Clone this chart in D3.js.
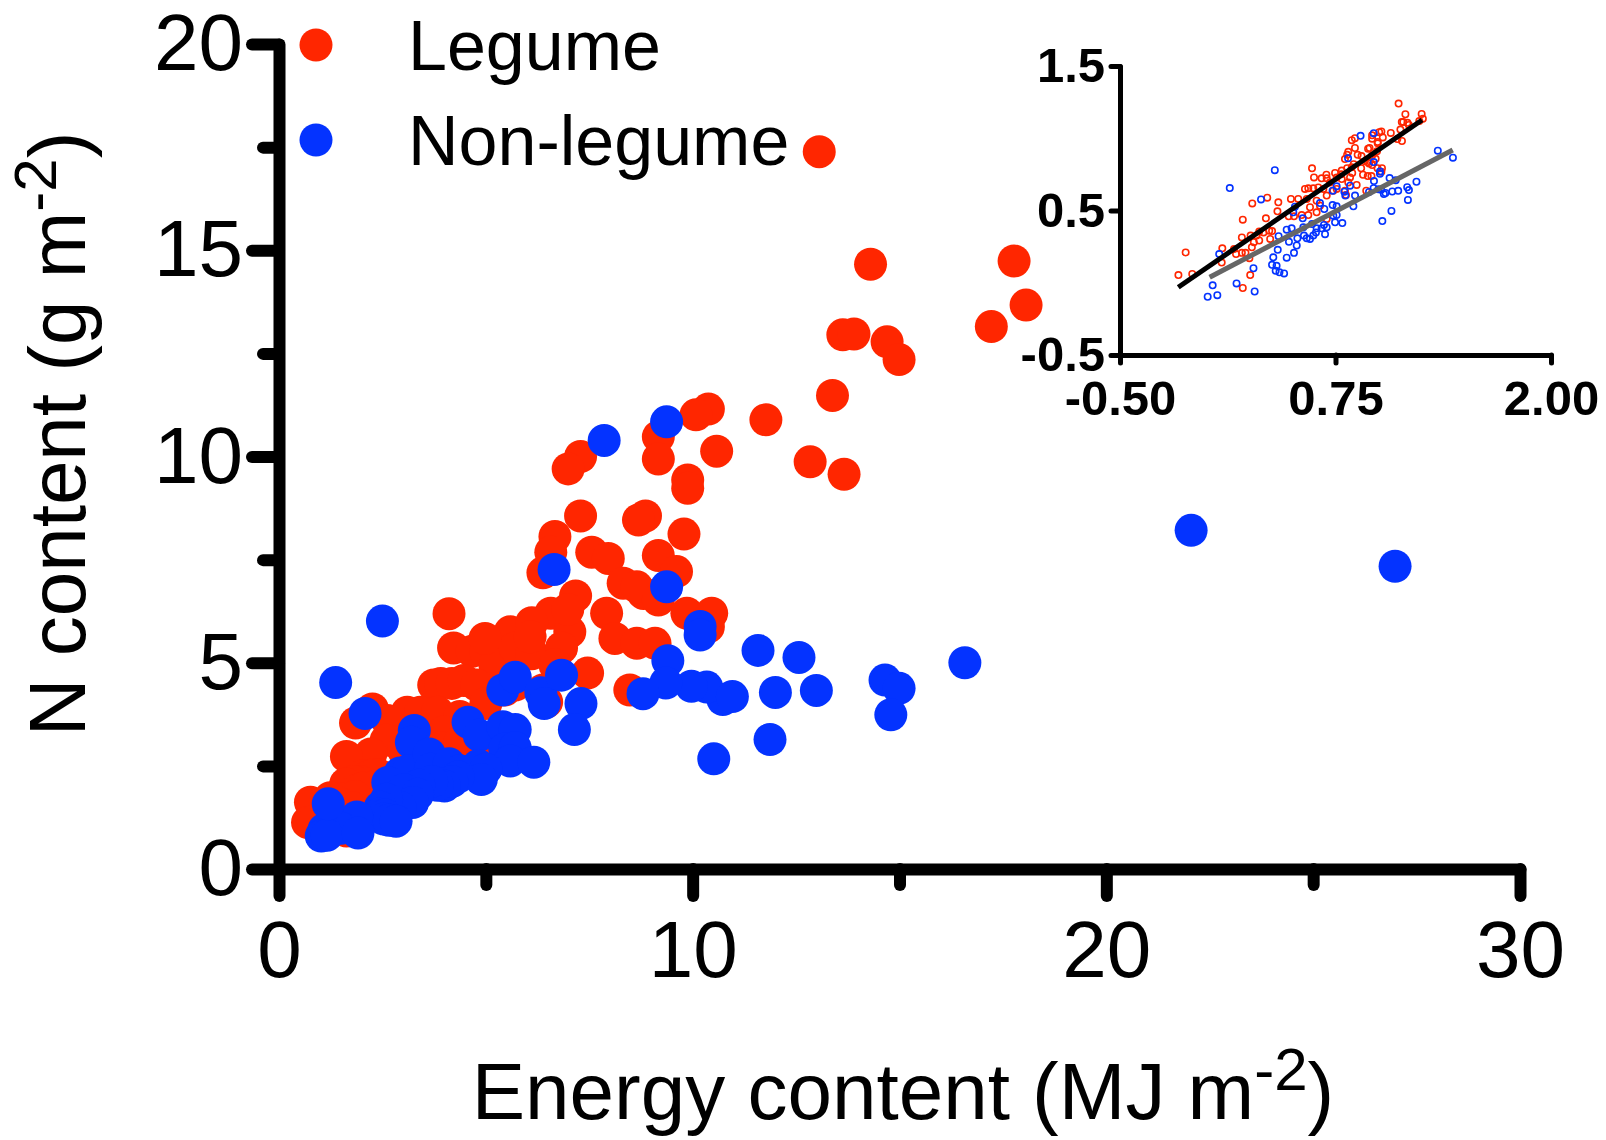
<!DOCTYPE html>
<html>
<head>
<meta charset="utf-8">
<script src="https://cdn.jsdelivr.net/npm/d3@7"></script>
<style>
  body { margin: 0; background: #fff; }
  text { font-family: "Liberation Sans", Arial, sans-serif; }
</style>
</head>
<body>
<div id="chart"></div>
<script>
// [energy content (MJ m-2), N content (g m-2)]
const legume = [
  [13.06,17.39],[14.30,14.66],[17.77,14.74],[18.06,13.67],[17.22,13.15],[13.63,12.95],[13.90,12.97],
  [14.70,12.78],[14.99,12.35],[13.38,11.48],[11.77,10.89],[10.38,11.15],[10.08,11.01],[9.17,10.48],
  [9.17,9.94],[10.58,10.13],[9.88,9.43],[9.88,9.23],[7.29,10.00],[6.99,9.70],[7.29,8.56],[8.86,8.56],
  [8.69,8.46],[9.79,8.12],[6.67,8.06],[6.57,7.68],[7.56,7.68],[7.96,7.53],[9.17,7.60],[9.61,7.21],
  [8.32,6.93],[8.81,6.68],[8.65,6.84],[9.17,6.52],[7.17,6.62],[6.57,6.20],[7.03,5.75],[7.92,6.20],
  [8.12,5.59],[8.65,5.47],[9.09,5.47],[9.86,6.20],[10.46,6.20],[10.38,5.87],[12.84,9.87],[13.66,9.57],
  [8.48,4.34],[7.46,4.75],
  [4.22,5.36],[4.67,5.28],[5.00,5.28],[5.22,4.95],[5.59,5.75],[5.71,5.36],[6.11,5.22],[6.83,5.36],
  [6.67,4.95],[6.38,7.18],[6.11,5.97],[6.98,6.29],[4.11,6.19],[4.98,5.59],[6.07,5.63],
  [3.74,4.46],[3.91,4.50],[4.18,4.50],[4.47,4.57],[4.78,4.46],[5.00,4.01],[5.46,4.34],[5.71,4.46],
  [6.38,4.34],[6.47,4.05],
  [3.10,3.80],[3.42,3.80],[3.83,3.80],[4.37,3.70],[4.57,3.41],[4.00,3.33],[3.91,2.94],[4.37,3.07],[5.00,2.76],
  [2.26,3.88],[2.62,3.60],[2.59,3.12],[2.22,2.79],[1.85,3.54],[1.63,2.73],[3.01,2.88],[3.23,2.88],[3.58,2.94],
  [2.03,2.26],[2.15,2.23],[2.32,2.29],[2.41,2.28],[1.96,2.12],[1.81,2.12],[1.61,2.06],[1.89,1.91],
  [2.03,1.96],[2.35,2.01],[1.45,1.71],[1.61,1.61],[1.69,1.61],[1.84,1.76],[1.49,1.58],
  [1.24,1.73],[0.76,1.62],[0.69,1.13],[0.83,1.15],[1.23,1.38],[1.78,1.48],[1.80,1.13],[1.63,0.92]
];

const nonLegume = [
  [22.05,8.21],[26.98,7.34],[7.86,10.39],[9.37,10.84],[6.65,7.26],[9.37,6.84],[10.18,5.88],[10.18,5.67],
  [11.58,5.30],[12.57,5.13],[16.58,5.00],[14.65,4.58],[14.99,4.38],[12.00,4.28],[12.99,4.33],[10.73,4.11],
  [10.34,4.41],[9.97,4.43],[10.96,4.18],[14.79,3.74],[11.87,3.14],[10.51,2.67],[9.40,5.05],[9.35,4.51],
  [8.80,4.25],[2.50,6.01],[1.37,4.52],[2.08,3.77],
  [5.41,4.34],[5.71,4.65],[6.33,4.27],[6.83,4.70],[6.41,4.01],[7.30,4.01],
  [4.57,3.56],[4.84,3.24],[5.41,3.45],[5.71,3.38],[5.46,2.91],[5.71,2.94],[5.59,2.62],[7.14,3.38],[6.16,2.59],
  [3.27,3.36],[3.20,3.07],[2.93,2.33],[3.13,2.38],[3.63,2.79],[3.66,2.42],[4.11,2.55],[4.37,2.38],
  [4.67,2.38],[4.82,2.51],[5.00,2.42],[4.89,2.17],[4.33,2.23],[4.18,2.12],[4.00,2.01],[3.83,2.03],
  [3.69,2.12],[3.38,2.03],
  [2.63,2.10],[3.02,1.92],[3.35,1.81],[3.23,1.61],[2.93,1.49],[2.60,1.69],[2.45,1.50],[2.41,1.33],
  [2.56,1.31],[2.53,1.21],[2.66,1.18],[2.83,1.16],[1.88,1.26],[1.50,0.99],[1.09,0.96],[1.02,0.80],
  [1.16,0.82],[1.91,0.87],[1.19,1.58]
];

const xTicks = [0, 10, 20, 30];
const xMinor = [5, 15, 25];
const yTicks = [0, 5, 10, 15, 20];
const yMinor = [2.5, 7.5, 12.5, 17.5];

// inset: log10 of both variables, with the fitted lines
const insetXTicks = [-0.5, 0.75, 2.0];
const insetYTicks = [-0.5, 0.5, 1.5];
const legumeFit = [[-0.162, -0.031], [1.252, 1.126]];
const nonLegumeFit = [[0.020, 0.038], [1.430, 0.919]];

const series = ["Legume", "Non-legume"];
const colors = ["#ff2600", "#0433ff"];

const svg = d3.select("#chart").append("svg")
    .attr("width", 1606)
    .attr("height", 1140);

svg.append("rect").attr("width", 1606).attr("height", 1140).attr("fill", "#fff");

const x = d3.scaleLinear().domain([0, 30]).range([279, 1520]);
const y = d3.scaleLinear().domain([0, 20]).range([869, 44]);

function styleAxis(g, w) {
    g.attr("font-family", null).attr("font-size", null);
    g.select(".domain").attr("stroke", "#000").attr("stroke-width", w).attr("stroke-linecap", "round");
    g.selectAll(".tick line").attr("stroke", "#000").attr("stroke-width", w).attr("stroke-linecap", "round");
}

// y axis
svg.append("g")
    .attr("transform", "translate(279,0)")
    .call(d3.axisLeft(y).tickValues(yMinor).tickSize(16).tickFormat(""))
    .call(g => { styleAxis(g, 12); g.select(".domain").remove(); });

svg.append("g")
    .attr("transform", "translate(279,0)")
    .call(d3.axisLeft(y).tickValues(yTicks).tickSize(27).tickSizeOuter(0).tickPadding(9).tickFormat(d => d))
    .call(g => styleAxis(g, 12))
    .call(g => g.selectAll("text").attr("font-size", 80).attr("fill", "#000"));

// x axis
svg.append("g")
    .attr("transform", "translate(0,869)")
    .call(d3.axisBottom(x).tickValues(xMinor).tickSize(16).tickFormat(""))
    .call(g => { styleAxis(g, 12); g.select(".domain").remove(); });

svg.append("g")
    .attr("transform", "translate(0,869)")
    .call(d3.axisBottom(x).tickValues(xTicks).tickSize(27).tickSizeOuter(0).tickPadding(24).tickFormat(d => d))
    .call(g => styleAxis(g, 12))
    .call(g => g.selectAll("text").attr("font-size", 80).attr("fill", "#000"));

// axis titles
const xt = svg.append("text")
    .attr("x", 903).attr("y", 1119)
    .attr("text-anchor", "middle")
    .attr("font-size", 80);
xt.append("tspan").text("Energy content (MJ m");
xt.append("tspan").attr("font-size", 60).attr("dy", -29).text("-2");
xt.append("tspan").attr("dy", 29).text(")");

const yt = svg.append("text")
    .attr("transform", "translate(85,434) rotate(-90)")
    .attr("text-anchor", "middle")
    .attr("font-size", 80);
yt.append("tspan").text("N content (g m");
yt.append("tspan").attr("font-size", 60).attr("dy", -29).text("-2");
yt.append("tspan").attr("dy", 29).text(")");

// points
[legume, nonLegume].forEach((data, i) => {
    svg.append("g").selectAll("circle")
        .data(data)
        .enter()
        .append("circle")
        .attr("cx", d => x(d[0]))
        .attr("cy", d => y(d[1]))
        .attr("r", 16.5)
        .attr("fill", colors[i]);
});

// legend
const legend = svg.append("g");
series.forEach((s, i) => {
    legend.append("circle")
        .attr("cx", 316)
        .attr("cy", 45 + i * 95)
        .attr("r", 16.5)
        .attr("fill", colors[i]);
    legend.append("text")
        .attr("x", 408)
        .attr("y", 70 + i * 95)
        .attr("font-size", 70)
        .text(s);
});

// inset
const ix = d3.scaleLinear().domain([-0.5, 2.0]).range([1120, 1551]);
const iy = d3.scaleLinear().domain([-0.5, 1.5]).range([355, 66]);
const inset = svg.append("g");

inset.append("g")
    .attr("transform", "translate(1120,0)")
    .call(d3.axisLeft(iy).tickValues(insetYTicks).tickSize(9).tickSizeOuter(0).tickPadding(6).tickFormat(d => d.toFixed(1)))
    .call(g => styleAxis(g, 5))
    .call(g => g.selectAll("text").attr("font-size", 49).attr("font-weight", "bold").attr("fill", "#000"));

inset.append("g")
    .attr("transform", "translate(0,355)")
    .call(d3.axisBottom(ix).tickValues(insetXTicks).tickSize(8).tickSizeOuter(0).tickPadding(17).tickFormat(d => d.toFixed(2)))
    .call(g => styleAxis(g, 5))
    .call(g => g.selectAll("text").attr("font-size", 49).attr("font-weight", "bold").attr("fill", "#000"));

[legume, nonLegume].forEach((data, i) => {
    inset.append("g").selectAll("circle")
        .data(data)
        .enter()
        .append("circle")
        .attr("cx", d => ix(Math.log10(d[0])))
        .attr("cy", d => iy(Math.log10(d[1])))
        .attr("r", 3.2)
        .attr("fill", "none")
        .attr("stroke", colors[i])
        .attr("stroke-width", 1.6);
});

const line = d3.line().x(d => ix(d[0])).y(d => iy(d[1]));
inset.append("path").attr("d", line(nonLegumeFit)).attr("stroke", "#666").attr("stroke-width", 5).attr("fill", "none");
inset.append("path").attr("d", line(legumeFit)).attr("stroke", "#000").attr("stroke-width", 5).attr("fill", "none");
</script>
</body>
</html>
